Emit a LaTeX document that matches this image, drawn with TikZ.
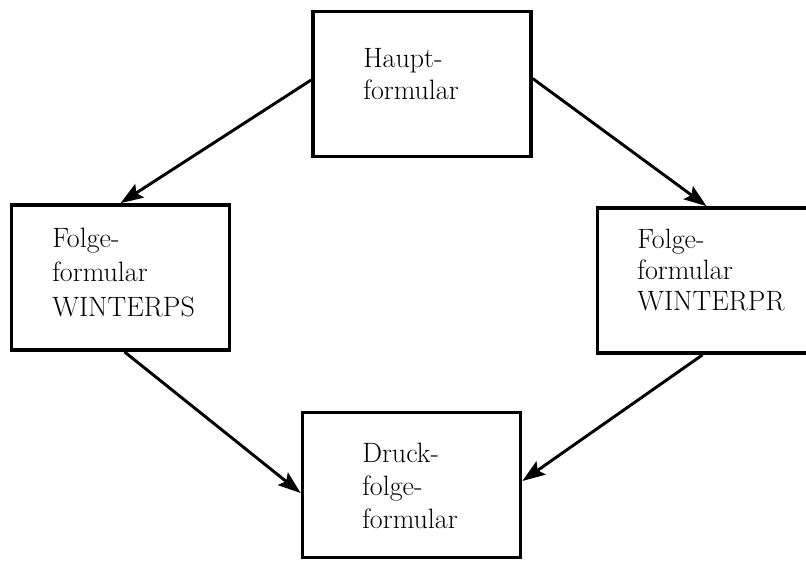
\documentclass[tikz,border=0pt]{standalone}
\usetikzlibrary{arrows.meta}
\begin{document}
\begin{tikzpicture}[x=0.75pt,y=-0.75pt,
  box/.style={draw=black, line width=2.8pt, minimum width=163.5pt, minimum height=108.75pt, inner sep=0pt},
  lbl/.style={font=\rmfamily\fontsize{21}{#1}\selectfont, align=left, anchor=north west, inner sep=0pt},
  conn/.style={line width=2.2pt, -{Stealth[length=17pt,width=12pt,inset=3pt]}}]
\useasboundingbox (0,0) rectangle (806,560);
\clip (0,0) rectangle (806,560);
\fill[white] (0,0) rectangle (806,560);
% boxes
\node[box] (haupt) at (422,84) {};
\node[box] (ps) at (120.5,277.5) {};
\node[box] (pr) at (706.5,280.5) {};
\node[box] (druck) at (411.5,485) {};
% labels
\node[lbl=24pt] (thaupt) at (363,48.5) {Haupt-\\formular};
\node[lbl=26pt] (tps) at (52,227.5) {Folge-\\formular\\WINTERPS};
\node[lbl=23.5pt] (tpr) at (637,228.5) {Folge-\\formular\\WINTERPR};
\node[lbl=25pt] (tdruck) at (362,442.5) {Druck-\\folge-\\formular};
% connectors
\draw[conn] ([yshift=3pt]haupt.west) -- (ps.north);
\draw[conn] ([yshift=4pt]haupt.east) -- (pr.north);
\draw[conn] ([xshift=3pt]ps.south) -- ([yshift=-6pt]druck.west);
\draw[conn] ([xshift=-3pt]pr.south) -- ([yshift=3pt]druck.east);
\end{tikzpicture}
\end{document}
